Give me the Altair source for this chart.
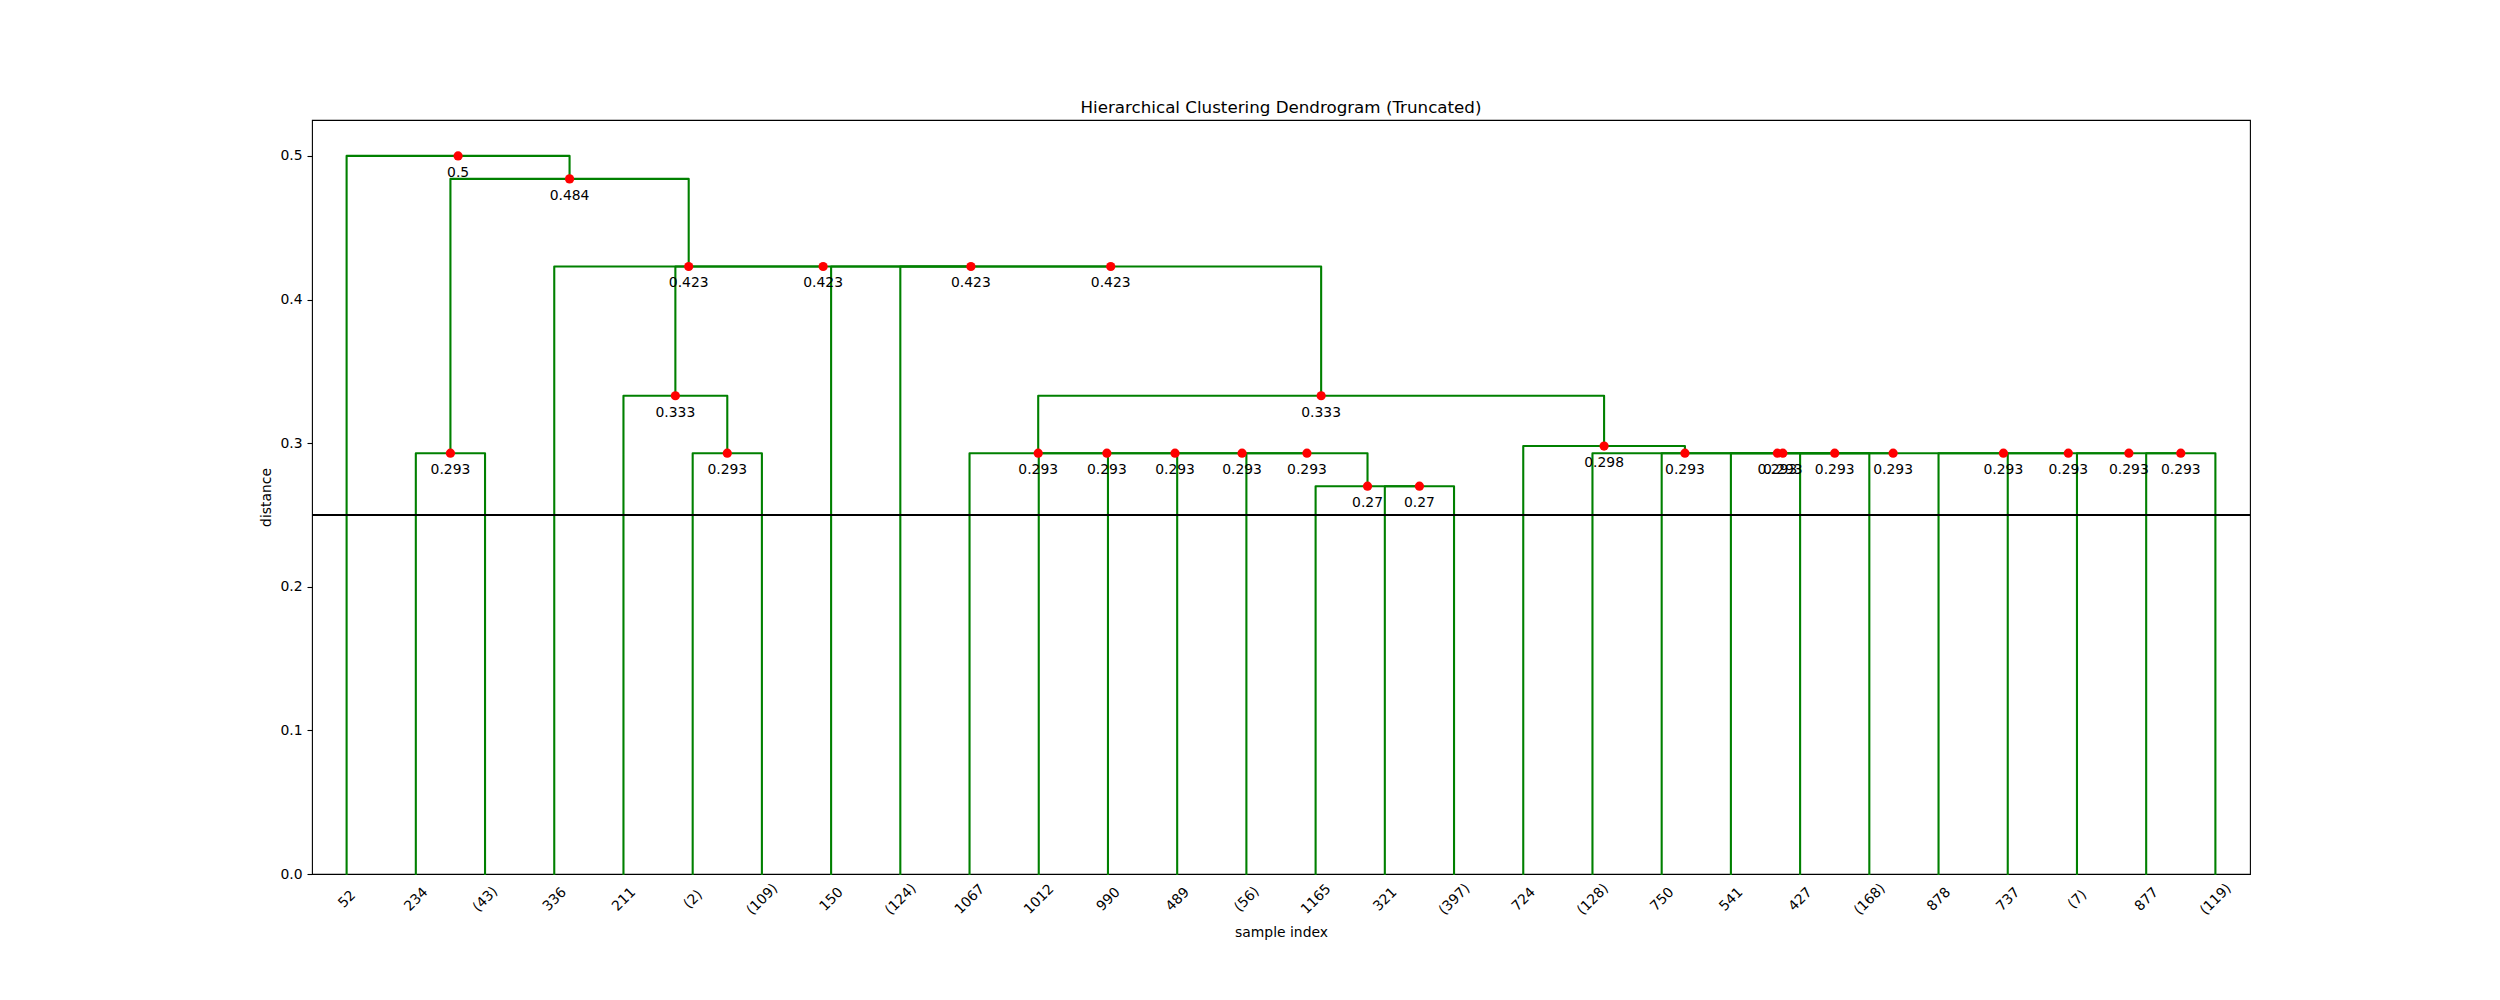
import json
import altair as alt
import pandas as pd

# ---- data ----
leaf_labels = ["52", "234", "(43)", "336", "211", "(2)", "(109)", "150", "(124)",
               "1067", "1012", "990", "489", "(56)", "1165", "321", "(397)", "724",
               "(128)", "750", "541", "427", "(168)", "878", "737", "(7)", "877", "(119)"]
leaf_x = [5, 15, 25, 35, 45, 55, 65, 75, 85, 95, 105, 115, 125, 135, 145, 155, 165,
          175, 185, 195, 205, 215, 225, 235, 245, 255, 265, 275]

# link x-coordinates (scipy icoord style) and heights (dcoord style)
icoord = [
    [15, 15, 25, 25],
    [55, 55, 65, 65],
    [45, 45, 60, 60],
    [155, 155, 165, 165],
    [145, 145, 160, 160],
    [135, 135, 152.5, 152.5],
    [125, 125, 143.75, 143.75],
    [115, 115, 134.375, 134.375],
    [105, 105, 124.6875, 124.6875],
    [95, 95, 114.84375, 114.84375],
    [265, 265, 275, 275],
    [255, 255, 270, 270],
    [245, 245, 262.5, 262.5],
    [235, 235, 253.75, 253.75],
    [215, 215, 225, 225],
    [205, 205, 220, 220],
    [212.5, 212.5, 244.375, 244.375],
    [195, 195, 228.4375, 228.4375],
    [185, 185, 211.71875, 211.71875],
    [175, 175, 198.359375, 198.359375],
    [104.921875, 104.921875, 186.6796875, 186.6796875],
    [85, 85, 145.80078125, 145.80078125],
    [75, 75, 115.400390625, 115.400390625],
    [52.5, 52.5, 95.2001953125, 95.2001953125],
    [35, 35, 73.85009765625, 73.85009765625],
    [20, 20, 54.425048828125, 54.425048828125],
    [5, 5, 37.2125244140625, 37.2125244140625],
]
dcoord = [
    [0, 0.293, 0.293, 0],
    [0, 0.293, 0.293, 0],
    [0, 0.333, 0.333, 0.293],
    [0, 0.27, 0.27, 0],
    [0, 0.27, 0.27, 0.27],
    [0, 0.293, 0.293, 0.27],
    [0, 0.293, 0.293, 0.293],
    [0, 0.293, 0.293, 0.293],
    [0, 0.293, 0.293, 0.293],
    [0, 0.293, 0.293, 0.293],
    [0, 0.293, 0.293, 0],
    [0, 0.293, 0.293, 0.293],
    [0, 0.293, 0.293, 0.293],
    [0, 0.293, 0.293, 0.293],
    [0, 0.293, 0.293, 0],
    [0, 0.293, 0.293, 0.293],
    [0.293, 0.293, 0.293, 0.293],
    [0, 0.293, 0.293, 0.293],
    [0, 0.293, 0.293, 0.293],
    [0, 0.298, 0.298, 0.293],
    [0.293, 0.333, 0.333, 0.298],
    [0, 0.423, 0.423, 0.333],
    [0, 0.423, 0.423, 0.423],
    [0.333, 0.423, 0.423, 0.423],
    [0, 0.423, 0.423, 0.423],
    [0.293, 0.484, 0.484, 0.423],
    [0, 0.5, 0.5, 0.484],
]
cut_distance = [0.25]
y_ticks = [0.0, 0.1, 0.2, 0.3, 0.4, 0.5]

# ---- tables built from the arrays ----
rows = []
for k, (xs, ys) in enumerate(zip(icoord, dcoord)):
    for j in range(4):
        rows.append({"link": k, "o": j, "x": xs[j], "y": ys[j]})
lines_df = pd.DataFrame(rows)
dots_df = pd.DataFrame({
    "x": [0.5 * (xs[1] + xs[2]) for xs in icoord],
    "y": [ys[1] for ys in dcoord],
})
hline_df = pd.DataFrame({"y": cut_distance})

FONT = "DejaVu Sans"
W, H = 1938, 754

label_expr = f"{json.dumps(leaf_labels)}[indexof({json.dumps(leaf_x)}, datum.value)]"

x_enc = alt.X(
    "x:Q",
    scale=alt.Scale(domain=[0, 280], nice=False, zero=False),
    axis=alt.Axis(
        values=leaf_x, labelExpr=label_expr, labelAngle=-45, labelAlign="center",
        labelBaseline="middle", labelPadding=25, ticks=False, tickSize=0,
        domain=False, grid=False, labelOverlap=False, labelFlush=False,
        labelBound=False, labelFont=FONT, labelFontSize=13.9, labelColor="black",
        title="sample index", titleFont=FONT, titleFontSize=13.9,
        titleFontWeight="normal", titleColor="black", titleY=58.5,
        titleX=W / 2, titleBaseline="middle", titleAlign="center",
    ),
)
y_enc = alt.Y(
    "y:Q",
    scale=alt.Scale(domain=[0, 0.525], nice=False, zero=False),
    axis=alt.Axis(
        values=y_ticks, format=".1f", tickSize=5, tickWidth=1.1, tickColor="black",
        labelPadding=5, domain=False, grid=False, labelFont=FONT,
        labelFontSize=13.9, labelColor="black",
        title="distance", titleFont=FONT, titleFontSize=13.9,
        titleFontWeight="normal", titleColor="black", titleX=-46, titleY=H / 2,
        titleAngle=270, titleBaseline="middle", titleAlign="center",
    ),
)

lines = alt.Chart(lines_df).mark_line(
    color="#008000", strokeWidth=2.1, strokeCap="square", strokeJoin="round"
).encode(x=x_enc, y=y_enc, detail="link:N", order="o:Q")

hline = alt.Chart(hline_df).mark_rule(color="black", strokeWidth=2.1).encode(y=y_enc)

dots = alt.Chart(dots_df).mark_circle(color="#ff0000", opacity=1, size=85).encode(
    x=x_enc, y=y_enc
)

texts = alt.Chart(dots_df).mark_text(
    font=FONT, fontSize=13.9, color="black", align="center",
    baseline="alphabetic", dy=21,
).encode(x=x_enc, y=y_enc, text=alt.Text("y:Q", format=".3~g"))

chart = alt.layer(lines, hline, dots, texts).properties(
    width=W,
    height=H,
    padding={"left": 312, "top": 120, "right": 2500 - 312 - W, "bottom": 1000 - 120 - H},
    autosize=alt.AutoSizeParams(type="none"),
    title=alt.TitleParams(
        "Hierarchical Clustering Dendrogram (Truncated)", font=FONT, fontSize=16.7,
        fontWeight="normal", color="black", anchor="middle", baseline="alphabetic",
        offset=-10,
    ),
    background="white",
).configure_view(stroke="black", strokeWidth=1.1)

chart.save("out.html", embed_options={"renderer": "svg", "actions": False})
